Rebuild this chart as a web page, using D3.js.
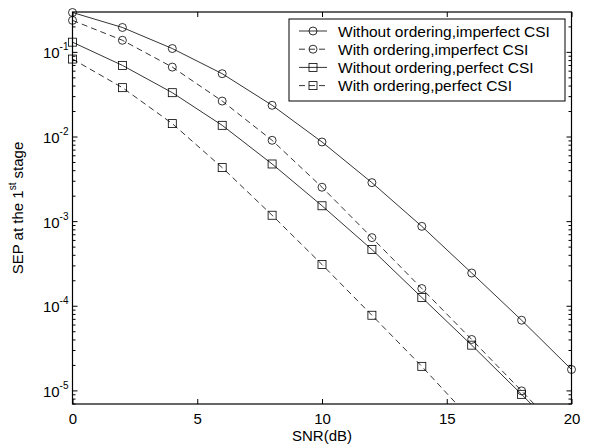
<!DOCTYPE html>
<html>
<head>
<meta charset="utf-8">
<script src="https://cdn.jsdelivr.net/npm/d3@7"></script>
<style>
  html, body { margin: 0; padding: 0; background: #fff; }
  svg { display: block; font-family: "Liberation Sans", Arial, Helvetica, sans-serif; }
</style>
</head>
<body>
<svg id="chart" width="594" height="448"></svg>
<script>
// ---- data ----
const snr = [0, 2, 4, 6, 8, 10, 12, 14, 16, 18, 20];
const woOrderImperfect = [0.296, 0.197, 0.111, 0.056, 0.0237, 0.00873, 0.00289, 8.8e-4, 2.47e-4, 6.84e-5, 1.79e-5];
const wOrderImperfect  = [0.239, 0.139, 0.067, 0.0266, 0.00914, 0.00255, 6.47e-4, 1.62e-4, 4.05e-5, 1.0e-5, 2.4e-6];
const woOrderPerfect   = [0.132, 0.0702, 0.0334, 0.01374, 0.0048, 0.00154, 4.68e-4, 1.27e-4, 3.47e-5, 9.1e-6, 2.3e-6];
const wOrderPerfect    = [0.0834, 0.0383, 0.0144, 0.00435, 0.00119, 3.11e-4, 7.83e-5, 1.95e-5, 4.5e-6];
const seriesNames = ["Without ordering,imperfect CSI", "With ordering,imperfect CSI",
                     "Without ordering,perfect CSI", "With ordering,perfect CSI"];
const xTicks = [0, 5, 10, 15, 20];
const yTickExps = [-1, -2, -3, -4, -5];
const xDomain = [0, 20];
const yDomain = [7e-6, 0.3];

// ---- layout ----
const svg = d3.select("#chart");
const L = 72.5, R = 571.5, T = 12, B = 404;
const x = d3.scaleLinear().domain(xDomain).range([L, R]);
const y = d3.scaleLog().domain(yDomain).range([B, T]);

const series = [
  { name: seriesNames[0], values: woOrderImperfect, marker: "circle", dash: null },
  { name: seriesNames[1], values: wOrderImperfect,  marker: "circle", dash: "6,4" },
  { name: seriesNames[2], values: woOrderPerfect,   marker: "square", dash: null },
  { name: seriesNames[3], values: wOrderPerfect,    marker: "square", dash: "6,4" }
];

svg.append("defs").append("clipPath").attr("id", "plotclip")
  .append("rect").attr("x", L).attr("y", T).attr("width", R - L).attr("height", B - T);

// axes box
svg.append("rect").attr("x", L).attr("y", T).attr("width", R - L).attr("height", B - T)
  .attr("fill", "none").attr("stroke", "#000").attr("stroke-width", 1.2);

// x ticks (inward, bottom and top) via d3 axis
const xAxisB = d3.axisBottom(x).tickValues(xTicks).tickSizeInner(-5).tickSizeOuter(0).tickPadding(0);
const gxb = svg.append("g").attr("transform", `translate(0,${B})`).call(xAxisB);
gxb.select(".domain").remove();
gxb.selectAll("text").attr("font-size", 15).attr("fill", "#000").attr("dy", null).attr("y", 20)
  .attr("font-family", "'Liberation Sans', Arial, sans-serif");
gxb.selectAll("line").attr("stroke", "#000");
const xAxisT = d3.axisTop(x).tickValues(xTicks).tickSizeInner(-5).tickSizeOuter(0).tickFormat("");
const gxt = svg.append("g").attr("transform", `translate(0,${T})`).call(xAxisT);
gxt.select(".domain").remove();
gxt.selectAll("line").attr("stroke", "#000");

// y ticks: major + minor, both sides
const minor = [];
for (let e = -6; e <= 0; e++) for (let m = 2; m <= 9; m++) {
  const v = m * Math.pow(10, e);
  if (v >= yDomain[0] && v <= yDomain[1]) minor.push(v);
}
const major = yTickExps.map(e => Math.pow(10, e));
const tickG = svg.append("g").attr("stroke", "#000").attr("stroke-width", 1);
major.forEach(v => {
  tickG.append("line").attr("x1", L).attr("x2", L + 5).attr("y1", y(v)).attr("y2", y(v));
  tickG.append("line").attr("x1", R).attr("x2", R - 5).attr("y1", y(v)).attr("y2", y(v));
});
minor.forEach(v => {
  tickG.append("line").attr("x1", L).attr("x2", L + 3).attr("y1", y(v)).attr("y2", y(v));
  tickG.append("line").attr("x1", R).attr("x2", R - 3).attr("y1", y(v)).attr("y2", y(v));
});

// y tick labels 10^e
yTickExps.forEach(e => {
  const t = svg.append("text").attr("x", L - 4).attr("y", y(Math.pow(10, e)) + 6)
    .attr("text-anchor", "end").attr("font-size", 15).attr("fill", "#000");
  t.append("tspan").text("10");
  t.append("tspan").attr("font-size", 10).attr("dy", -8).text(String(e));
});

// axis labels
svg.append("text").attr("x", (L + R) / 2).attr("y", 441).attr("text-anchor", "middle")
  .attr("font-size", 15).text("SNR(dB)");
const yl = svg.append("text").attr("transform", `translate(23,${(T + B) / 2}) rotate(-90)`)
  .attr("text-anchor", "middle").attr("font-size", 15);
yl.append("tspan").text("SEP at the 1");
yl.append("tspan").attr("font-size", 10).attr("dy", -7).text("st");
yl.append("tspan").attr("dy", 7).text(" stage");

// lines
const line = d3.line().x(d => x(d[0])).y(d => y(d[1]));
const plotG = svg.append("g");
series.forEach(s => {
  const pts = s.values.map((v, i) => [snr[i], v]);
  plotG.append("path").datum(pts).attr("d", line)
    .attr("clip-path", "url(#plotclip)")
    .attr("fill", "none").attr("stroke", "#000").attr("stroke-width", 0.8)
    .attr("stroke-dasharray", s.dash);
  const vis = pts.filter(p => p[1] >= yDomain[0] && p[1] <= yDomain[1] * 1.01);
  drawMarkers(plotG, vis.map(p => [x(p[0]), y(p[1])]), s.marker);
});

function drawMarkers(g, coords, type) {
  coords.forEach(([cx, cy]) => {
    if (type === "circle") {
      g.append("circle").attr("cx", cx).attr("cy", cy).attr("r", 4)
        .attr("fill", "none").attr("stroke", "#000").attr("stroke-width", 0.8);
    } else {
      g.append("rect").attr("x", cx - 4).attr("y", cy - 4).attr("width", 8).attr("height", 8)
        .attr("fill", "none").attr("stroke", "#000").attr("stroke-width", 0.8);
    }
  });
}

// legend
const lgX = 289, lgY = 19, lgW = 276, lgH = 82;
svg.append("rect").attr("x", lgX).attr("y", lgY).attr("width", lgW).attr("height", lgH)
  .attr("fill", "#fff").attr("stroke", "#000").attr("stroke-width", 1);
series.forEach((s, i) => {
  const ry = 31 + i * 18.2;
  svg.append("line").attr("x1", 299).attr("x2", 327).attr("y1", ry).attr("y2", ry)
    .attr("stroke", "#000").attr("stroke-width", 0.8).attr("stroke-dasharray", s.dash);
  drawMarkers(svg, [[313, ry]], s.marker);
  svg.append("text").attr("x", 338).attr("y", ry + 5.5).attr("font-size", 15.5).text(s.name);
});
</script>
</body>
</html>
